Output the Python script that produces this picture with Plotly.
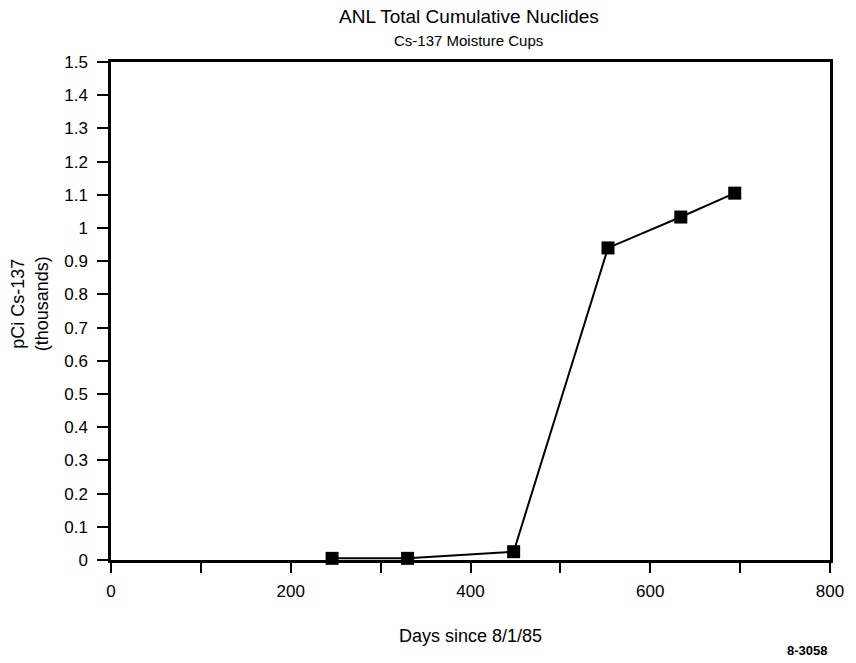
import plotly.graph_objects as go

days = [246, 330, 448, 553, 634, 694]
pci_thousands = [0.005, 0.005, 0.025, 0.94, 1.033, 1.105]

y_ticks = [0, 0.1, 0.2, 0.3, 0.4, 0.5, 0.6, 0.7, 0.8, 0.9, 1, 1.1, 1.2, 1.3, 1.4, 1.5]
y_labels = ["0", "0.1", "0.2", "0.3", "0.4", "0.5", "0.6", "0.7", "0.8", "0.9", "1",
            "1.1", "1.2", "1.3", "1.4", "1.5"]
x_ticks = [0, 100, 200, 300, 400, 500, 600, 700, 800]
x_labels = ["0", "", "200", "", "400", "", "600", "", "800"]

FONT = "Liberation Sans, Arial, sans-serif"

L, R, T, B = 111, 23, 62, 103
W, H = 856, 663
plot_h = H - T - B
plot_w = W - L - R


def py(pix):
    return (H - B - pix) / plot_h


def px(pix):
    return (pix - L) / plot_w


def ann(text, x, y, size, **kw):
    return dict(text=text, x=px(x), y=py(y), xref="paper", yref="paper",
                xanchor="center", yanchor="middle", showarrow=False,
                font=dict(size=size), **kw)


fig = go.Figure()
fig.add_trace(go.Scatter(
    x=days, y=pci_thousands, mode="lines+markers",
    line=dict(color="black", width=2),
    marker=dict(symbol="square", size=13, color="black"),
    showlegend=False, cliponaxis=False,
))

fig.update_layout(
    width=W, height=H,
    margin=dict(l=L, r=R, t=T, b=B),
    paper_bgcolor="white", plot_bgcolor="white",
    font=dict(family=FONT, color="black", size=17),
    xaxis=dict(range=[0, 800], tickvals=x_ticks, ticktext=x_labels,
               showgrid=False, zeroline=False, showline=True, linecolor="black",
               linewidth=2.5, mirror=True, ticks="outside", ticklen=10,
               tickwidth=2, tickcolor="black", tickfont=dict(size=17),
               ticklabelstandoff=4),
    yaxis=dict(range=[0, 1.5], tickvals=y_ticks, ticktext=y_labels,
               showgrid=False, zeroline=False, showline=True, linecolor="black",
               linewidth=2.5, mirror=True, ticks="outside", ticklen=11,
               tickwidth=2, tickcolor="black", tickfont=dict(size=17),
               ticklabelstandoff=6),
    annotations=[
        ann("ANL Total Cumulative Nuclides", 470, 17, 19),
        ann("Cs-137 Moisture Cups", 470, 41, 15),
        ann("Days since 8/1/85", 472, 636, 18),
        ann("<b>8-3058</b>", 810, 650, 13),
        ann("pCi Cs-137<br>(thousands)", 29, 304, 18, textangle=-90),
    ],
)

fig.write_html("out.html")
